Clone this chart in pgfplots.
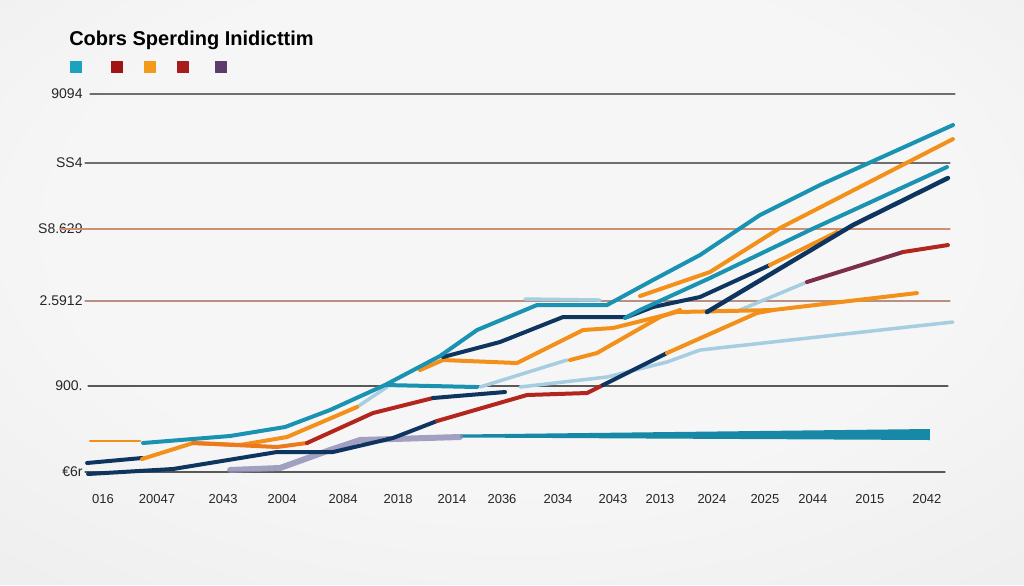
\documentclass[border=0pt]{standalone}
\usepackage{pgfplots}
\pgfplotsset{compat=1.18}
\usepackage{fontspec}
\setmainfont{Liberation Sans}
\definecolor{bgin}{HTML}{F6F6F6}
\definecolor{bgmid}{HTML}{E9E9E9}
\definecolor{bgout}{HTML}{D2D2D2}
\definecolor{cteal}{HTML}{1A93B3}
\definecolor{cbar}{HTML}{1788A6}
\definecolor{cnavy}{HTML}{0E355F}
\definecolor{corange}{HTML}{F39019}
\definecolor{cdorange}{HTML}{EC7A1C}
\definecolor{cred}{HTML}{B3261E}
\definecolor{clblue}{HTML}{A6CDE0}
\definecolor{clav}{HTML}{8E8BB5}
\definecolor{cmaroon}{HTML}{7D2E4A}
\definecolor{cgrid}{HTML}{6E6E6E}
\definecolor{cgridb}{HTML}{D09070}
\definecolor{cgridc}{HTML}{B89080}
\definecolor{lg1}{HTML}{1AA3BF}
\definecolor{lg2}{HTML}{A01414}
\definecolor{lg3}{HTML}{F39A1A}
\definecolor{lg4}{HTML}{A81C1C}
\definecolor{lg5}{HTML}{5E3A6E}
\pgfdeclareradialshading{bgshade}{\pgfpoint{0bp}{8bp}}{color(0bp)=(bgin); color(22bp)=(bgin); color(50bp)=(bgmid); color(72bp)=(bgout)}
\begin{document}
\begin{tikzpicture}
\shade[shading=bgshade] (0,0) rectangle (1024pt,585pt);
\begin{axis}[
  at={(0,0)}, anchor=south west,
  scale only axis, width=1024pt, height=585pt,
  xmin=0, xmax=1024, ymin=0, ymax=585,
  axis line style={draw=none},
  major tick length=0pt,
  /pgf/number format/assume math mode=true,
  xtick={103,157,223,282,343,398,452,502,558,613,660,712,765,813,870,927},
  xticklabels={016,20047,2043,2004,2084,2018,2014,2036,2034,2043,2013,2024,2025,2044,2015,2042},
  xticklabel style={anchor=north, yshift=94pt, font=\fontsize{13}{15}\selectfont, text=black!85},
  ytick={113,199,284,356,422,491},
  yticklabels={€6r,900.,2.5912,S8.629,SS4,9094},
  yticklabel style={anchor=east, xshift=86pt, font=\fontsize{14}{16}\selectfont, text=black!85},
  every axis plot/.append style={line join=round, line cap=round},
]
% gridlines
\addplot[cgrid, line width=1.2pt] coordinates {(90,491) (955,491)};
\addplot[cgrid, line width=1.2pt] coordinates {(85,422) (950,422)};
\addplot[cgridb, line width=1.4pt] coordinates {(60,356) (950,356)};
\addplot[cgridc, line width=1.4pt] coordinates {(85,284) (950,284)};
\addplot[black!65, line width=1.3pt] coordinates {(88,199) (948,199)};
\addplot[black!65, line width=1.5pt] coordinates {(85,113) (945,113)};
% thick teal bar
\addplot[fill=cbar, draw=none] coordinates {(460,147.5) (930,145) (930,156) (460,150.5)} -- cycle;
% lavender band
\addplot[clav, line width=6pt, opacity=0.8] coordinates {(230,115) (280,117) (330,135) (360,145) (460,148)};
% light blue lines
\addplot[clblue, line width=3.5pt] coordinates {(480,198) (567,225)};
\addplot[clblue, line width=3.5pt] coordinates {(520,198) (607,208) (667,223) (700,235) (953,263)};
\addplot[clblue, line width=3.5pt] coordinates {(740,275) (807,303)};
\addplot[clblue, line width=3.5pt] coordinates {(525,286) (600,285)};
\addplot[clblue, line width=3.5pt] coordinates {(357,178) (387,198)};
% maroon / red end
\addplot[cmaroon, line width=4pt] coordinates {(807,303) (903,333)};
\addplot[cred, line width=4pt] coordinates {(903,333) (948,340)};
% top-left short orange
\addplot[corange, line width=2.5pt] coordinates {(90,144) (140,144)};
% navy lower + red + navy
\addplot[cnavy, line width=4pt] coordinates {(88,111) (173,116) (277,133) (333,133) (393,147) (437,164)};
\addplot[cred, line width=4pt] coordinates {(437,164) (527,190) (587,192) (603,200)};
\addplot[cnavy, line width=4pt] coordinates {(603,200) (667,232)};
\addplot[corange, line width=4pt] coordinates {(667,232) (757,272) (773,275)};
% navy upper-left + orange F
\addplot[cnavy, line width=4pt] coordinates {(87,122) (142,127)};
\addplot[corange, line width=4pt] coordinates {(142,126) (193,142) (240,140) (287,148) (357,178)};
% red 1
\addplot[cdorange, line width=4pt] coordinates {(193,142) (277,138) (307,142)};
\addplot[cred, line width=4pt] coordinates {(307,142) (373,172) (433,187)};
\addplot[cnavy, line width=4pt] coordinates {(433,187) (505,193)};
% orange E
\addplot[corange, line width=4pt] coordinates {(420,215) (443,225) (517,222) (583,255) (613,257) (677,273) (773,275) (917,292)};
% orange G
\addplot[corange, line width=4pt] coordinates {(570,225) (597,232) (660,268) (680,275)};
% teal flat
\addplot[cteal, line width=4pt] coordinates {(385,200) (477,198)};
% navy D
\addplot[cnavy, line width=4pt] coordinates {(443,228) (500,243) (563,268) (627,268) (653,278) (700,288) (770,320)};
\addplot[corange, line width=4pt] coordinates {(770,320) (837,353)};
% navy F
\addplot[cnavy, line width=4.5pt] coordinates {(707,273) (853,360) (948,407)};
% teal C
\addplot[cteal, line width=4pt] coordinates {(625,267) (640,275) (710,307) (810,355) (947,418)};
% orange B
\addplot[corange, line width=4pt] coordinates {(640,289) (710,313) (780,357) (953,446)};
% teal A
\addplot[cteal, line width=4pt] coordinates {(143,142) (230,149) (285,158) (330,175) (385,200) (440,229) (477,255) (537,280) (607,280) (653,305) (700,330) (760,370) (820,400) (953,460)};
% legend squares
\addplot[only marks, mark=square*, mark size=5.5pt, lg1] coordinates {(76,518)};
\addplot[only marks, mark=square*, mark size=5.5pt, lg2] coordinates {(117,518)};
\addplot[only marks, mark=square*, mark size=5.5pt, lg3] coordinates {(150,518)};
\addplot[only marks, mark=square*, mark size=5.5pt, lg4] coordinates {(183,518)};
\addplot[only marks, mark=square*, mark size=5.5pt, lg5] coordinates {(221,518)};
\node[anchor=west, inner sep=0pt, font=\fontsize{20}{22}\selectfont\bfseries] at (axis cs:69,545) {Cobrs Sperding Inidicttim};
\end{axis}
\end{tikzpicture}
\end{document}
